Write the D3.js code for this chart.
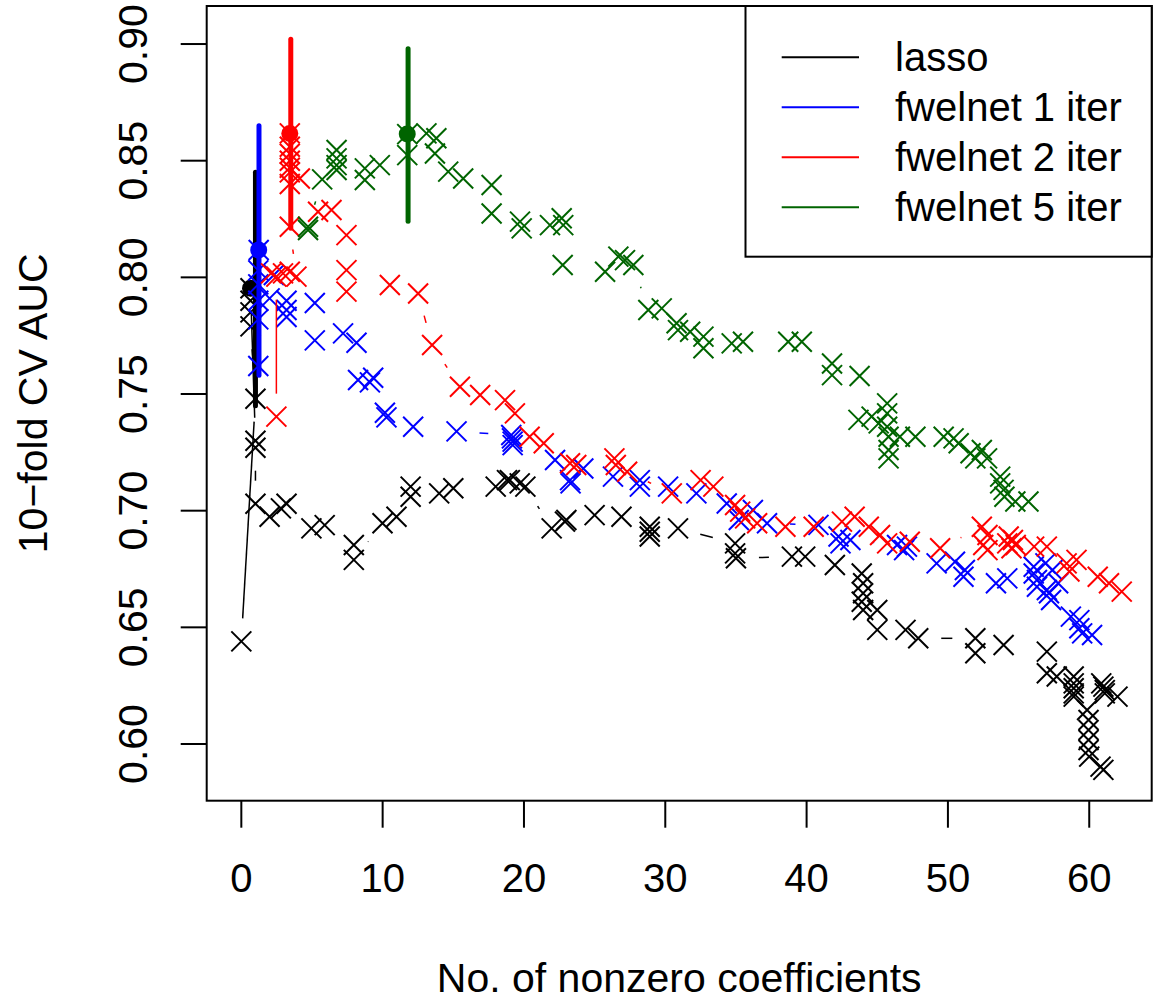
<!DOCTYPE html>
<html>
<head>
<meta charset="utf-8">
<script src="https://cdn.jsdelivr.net/npm/d3@7"></script>
<style>
body { margin: 0; background: #fff; }
text { font-family: "Liberation Sans", Arial, sans-serif; fill: #000; }
</style>
</head>
<body>
<div id="chart"></div>
<script>
// series: number of nonzero coefficients vs CV AUC
var lassoNz = [0, 1, 0.65, 0.65, 0.65, 0.65, 1, 1, 1, 2, 2.8, 3.2, 4.96, 5.9, 7.96, 7.96, 9.99, 10.98, 11.98, 11.98,
	14, 15, 18, 18.8, 19, 19.7, 20.1, 21.96, 22.9, 23, 25, 26.9, 28.9, 28.9, 28.9, 30.9, 34.94, 34.94, 35, 38.96,
	39.9, 42, 43.9, 44, 44, 43.9, 44, 45, 45, 47, 47.9, 51.94, 51.94, 53.94, 57, 57, 57.7, 58.9, 58.9, 58.9,
	58.9, 58.9, 60.85, 61, 61.1, 61.1, 62, 59.85, 59.95, 59.95, 59.95, 59.95, 60, 60.8, 61]
var lassoAuc = [0.644, 0.748, 0.779, 0.785, 0.790, 0.7953, 0.730, 0.727, 0.703, 0.6974, 0.701, 0.703, 0.6924, 0.6938, 0.6853, 0.6789, 0.6946, 0.6974, 0.706, 0.7103,
	0.7074, 0.7096, 0.7103, 0.7131, 0.7131, 0.7117, 0.7103, 0.6924, 0.6953, 0.696, 0.6981, 0.6974, 0.6931, 0.691, 0.6889, 0.6924, 0.686, 0.6817, 0.6796, 0.6803,
	0.6803, 0.6767, 0.6731, 0.6689, 0.6646, 0.661, 0.6574, 0.6574, 0.6489, 0.6489, 0.6453, 0.6453, 0.6389, 0.6424, 0.6396, 0.6303, 0.6289, 0.6289, 0.626, 0.6239,
	0.6217, 0.6203, 0.626, 0.6246, 0.6231, 0.6217, 0.6203, 0.6146, 0.6103, 0.606, 0.6017, 0.5974, 0.5946, 0.5903, 0.5889]

var iter1Nz = [1.2, 1.2, 1.2, 1.2, 1.2, 1.23, 2.3, 2.0, 3.2, 3.2, 3.2, 5.2, 5.2, 7.2, 8.15, 8.26, 9.1, 9.33, 10.16, 10.27,
	12.16, 15.23, 19.1, 19.15, 19.2, 19.2, 22.2, 23.26, 23.3, 24.2, 26.3, 28.2, 28.2, 30.2, 32.2, 34.35, 35.2, 36.2, 37.2, 40.84,
	42.26, 42.4, 43.1, 46.4, 46.9, 47.1, 49.2, 50.5, 51.2, 51.1, 53.4, 54.2, 56.07, 56.9, 57.4, 56.07, 56.3, 57.8, 56.3, 57,
	57.15, 57.3, 58.7, 59.3, 59.3, 59.5, 60.2]
var iter1Auc = [0.762, 0.782, 0.790, 0.797, 0.803, 0.8117, 0.801, 0.791, 0.790, 0.786, 0.783, 0.789, 0.773, 0.776, 0.772, 0.756, 0.755, 0.757, 0.742, 0.740,
	0.736, 0.734, 0.7324, 0.731, 0.7296, 0.7281, 0.7217, 0.7131, 0.7117, 0.7181, 0.7146, 0.7131, 0.7103, 0.7103, 0.7074, 0.7031, 0.696, 0.7003, 0.6946, 0.6939,
	0.6889, 0.686, 0.6874, 0.6853, 0.6831, 0.6846, 0.6774, 0.6781, 0.6746, 0.6717, 0.6689, 0.671, 0.676, 0.6774, 0.6746, 0.6731, 0.6703, 0.6689, 0.6674, 0.666,
	0.6646, 0.6617, 0.6546, 0.6531, 0.6496, 0.6474, 0.6467]

var iter2Nz = [2.48, 2.48, 2.1, 2.95, 3.43, 3.9, 3.43, 3.43, 3.43, 3.43, 3.43, 3.43, 3.43, 3.43, 4.14, 5.43, 6.38, 7.44, 7.44, 7.44,
	10.51, 12.51, 13.5, 15.47, 16.9, 18.66, 19.36, 20.4, 21.4, 23.26, 23.7, 26.4, 26.5, 27.3, 30.46, 32.5, 33.4, 34.94, 35.3, 35.65,
	36.5, 38.5, 40.5, 42.5, 43.4, 44.4, 45.2, 45.7, 47.3, 49.45, 52.4, 52.5, 52.8, 52.8, 54.2, 54.3, 54.6, 54.5, 54.8, 56.1,
	57, 58.4, 58.6, 59.1, 60.6, 61.4, 62.3]
var iter2Auc = [0.7403, 0.8003, 0.8017, 0.8017, 0.8024, 0.8003, 0.8217, 0.840, 0.845, 0.847, 0.850, 0.853, 0.856, 0.8617, 0.8424, 0.8281, 0.8289, 0.8181, 0.8031, 0.7939,
	0.7967, 0.7931, 0.771, 0.7531, 0.7496, 0.7474, 0.7417, 0.7317, 0.7289, 0.7203, 0.7196, 0.7224, 0.7196, 0.7167, 0.7074, 0.7131, 0.7103, 0.7024, 0.6996, 0.6967,
	0.6946, 0.6931, 0.6931, 0.6953, 0.6974, 0.6931, 0.6896, 0.686, 0.6867, 0.6839, 0.6931, 0.6853, 0.6896, 0.6831, 0.686, 0.6889, 0.6874, 0.6839, 0.6853, 0.6846,
	0.6846, 0.6774, 0.6739, 0.6789, 0.6717, 0.6689, 0.6653]

var iter5Nz = [4.72, 4.72, 5.72, 6.74, 6.74, 6.74, 6.74, 8.74, 8.74, 9.8, 11.74, 11.74, 13.1, 13.8, 13.7, 14.64, 15.7, 17.71, 17.71, 19.72,
	19.84, 21.84, 22.67, 22.78, 22.74, 25.74, 26.68, 27.15, 27.74, 28.8, 29.75, 30.8, 30.9, 31.76, 32.7, 32.7, 34.7, 35.5, 38.7, 39.66,
	41.8, 41.8, 43.75, 43.67, 44.6, 45.1, 45.7, 45.7, 45.7, 45.8, 45.8, 45.8, 46.6, 47.7, 49.7, 50.4, 50.76, 51.6, 51.94, 52.4,
	52.77, 53.7, 53.7, 53.94, 54, 54.77, 55.7]
var iter5Auc = [0.8203, 0.8217, 0.842, 0.846, 0.8481, 0.851, 0.8546, 0.8417, 0.8467, 0.8481, 0.8524, 0.8614, 0.8617, 0.8596, 0.8531, 0.8453, 0.8424, 0.8396, 0.8274, 0.8239,
	0.821, 0.8224, 0.8253, 0.8224, 0.8053, 0.8024, 0.8089, 0.8074, 0.8053, 0.786, 0.7867, 0.7803, 0.7774, 0.7767, 0.7746, 0.7696, 0.7717, 0.7724, 0.7724, 0.7724,
	0.7631, 0.7581, 0.7577, 0.7389, 0.7403, 0.7374, 0.746, 0.7417, 0.736, 0.7317, 0.726, 0.7224, 0.7317, 0.7317, 0.7317, 0.731, 0.7289, 0.7246, 0.7224, 0.726,
	0.7224, 0.7146, 0.7117, 0.7089, 0.706, 0.7039, 0.7039]

// best model per method: point, and the interval bar
var bestNz = [0.65, 1.23, 3.43, 11.74]
var bestAuc = [0.7953, 0.8117, 0.8617, 0.8614]
var barNz = [1.0, 1.25, 3.5, 11.8]
var barLow = [0.745, 0.758, 0.821, 0.824]
var barHigh = [0.845, 0.865, 0.902, 0.898]

var labels = ["lasso", "fwelnet 1 iter", "fwelnet 2 iter", "fwelnet 5 iter"]
var colors = ["#000000", "#0000ff", "#ff0000", "#006400"]
var xTicks = [0, 10, 20, 30, 40, 50, 60]
var yTicks = [0.60, 0.65, 0.70, 0.75, 0.80, 0.85, 0.90]

var width = 1157, height = 1000
var plot = {left: 206.7, right: 1151.7, top: 6, bottom: 800.7}

var x = d3.scaleLinear().domain([-2.45, 64.42]).range([plot.left, plot.right])
var y = d3.scaleLinear().domain([0.5757, 0.9163]).range([plot.bottom, plot.top])

var svg = d3.select("#chart").append("svg")
	.attr("width", width)
	.attr("height", height)

svg.append("rect")
	.attr("width", width).attr("height", height)
	.attr("fill", "#fff")

var series = [
	{nz: lassoNz, auc: lassoAuc},
	{nz: iter1Nz, auc: iter1Auc},
	{nz: iter2Nz, auc: iter2Auc},
	{nz: iter5Nz, auc: iter5Auc}
]

// R type="b": segments stop short of each point
var gap = 23
function gappedSegments(pts) {
	var segs = []
	for (var i = 1; i < pts.length; i++) {
		var a = pts[i - 1], b = pts[i]
		var dx = b[0] - a[0], dy = b[1] - a[1]
		var L = Math.sqrt(dx * dx + dy * dy)
		if (L <= 2 * gap) continue
		var ux = dx / L, uy = dy / L
		segs.push([a[0] + ux * gap, a[1] + uy * gap, b[0] - ux * gap, b[1] - uy * gap])
	}
	return segs
}

var g = svg.append("g")

series.forEach(function(s, k) {
	var pts = s.nz.map(function(d, i) { return [x(d), y(s.auc[i])]; })
	var sg = g.append("g").attr("class", "series")

	sg.selectAll(".seg")
		.data(gappedSegments(pts))
		.enter().append("line")
		.attr("x1", function(d) { return d[0]; })
		.attr("y1", function(d) { return d[1]; })
		.attr("x2", function(d) { return d[2]; })
		.attr("y2", function(d) { return d[3]; })
		.attr("stroke", colors[k])
		.attr("stroke-width", 1.5)

	var r = 10
	sg.selectAll(".pt")
		.data(pts)
		.enter().append("path")
		.attr("d", function(d) {
			return "M" + (d[0] - r) + "," + (d[1] - r) + "L" + (d[0] + r) + "," + (d[1] + r) +
				"M" + (d[0] - r) + "," + (d[1] + r) + "L" + (d[0] + r) + "," + (d[1] - r)
		})
		.attr("fill", "none")
		.attr("stroke", colors[k])
		.attr("stroke-width", 2)

	sg.append("line")
		.attr("x1", x(barNz[k])).attr("x2", x(barNz[k]))
		.attr("y1", y(barLow[k])).attr("y2", y(barHigh[k]))
		.attr("stroke", colors[k])
		.attr("stroke-width", 5)
		.attr("stroke-linecap", "round")

	sg.append("circle")
		.attr("cx", x(bestNz[k]))
		.attr("cy", y(bestAuc[k]))
		.attr("r", 8.5)
		.attr("fill", colors[k])
})

// plot frame
svg.append("rect")
	.attr("x", plot.left).attr("y", plot.top)
	.attr("width", plot.right - plot.left)
	.attr("height", plot.bottom - plot.top)
	.attr("fill", "none")
	.attr("stroke", "#000")
	.attr("stroke-width", 2)

// x axis
var xa = svg.append("g")
xa.selectAll(".xt")
	.data(xTicks)
	.enter().append("line")
	.attr("x1", function(d) { return x(d); })
	.attr("x2", function(d) { return x(d); })
	.attr("y1", plot.bottom).attr("y2", plot.bottom + 27)
	.attr("stroke", "#000").attr("stroke-width", 2)
xa.selectAll(".xl")
	.data(xTicks)
	.enter().append("text")
	.attr("x", function(d) { return x(d); })
	.attr("y", 892)
	.attr("text-anchor", "middle")
	.style("font-size", "40px")
	.text(function(d) { return d; })

// y axis
var ya = svg.append("g")
ya.selectAll(".yt")
	.data(yTicks)
	.enter().append("line")
	.attr("x1", plot.left - 26).attr("x2", plot.left)
	.attr("y1", function(d) { return y(d); })
	.attr("y2", function(d) { return y(d); })
	.attr("stroke", "#000").attr("stroke-width", 2)
ya.selectAll(".yl")
	.data(yTicks)
	.enter().append("text")
	.attr("transform", function(d) { return "translate(147," + y(d) + ") rotate(-90)"; })
	.attr("text-anchor", "middle")
	.style("font-size", "41px")
	.text(function(d) { return d3.format(".2f")(d); })

svg.append("text")
	.attr("x", (plot.left + plot.right) / 2)
	.attr("y", 992)
	.attr("text-anchor", "middle")
	.style("font-size", "41px")
	.text("No. of nonzero coefficients")

svg.append("text")
	.attr("transform", "translate(47," + (plot.top + plot.bottom) / 2 + ") rotate(-90)")
	.attr("text-anchor", "middle")
	.style("font-size", "41px")
	.text("10\u2212fold CV AUC")

// legend
var lg = svg.append("g")
lg.append("rect")
	.attr("x", 745.5).attr("y", plot.top)
	.attr("width", plot.right - 745.5)
	.attr("height", 256.7 - plot.top)
	.attr("fill", "#fff")
	.attr("stroke", "#000")
	.attr("stroke-width", 2)

var items = lg.selectAll(".item")
	.data(labels)
	.enter().append("g")
	.attr("transform", function(d, i) { return "translate(0," + (57.3 + i * 50) + ")"; })
items.append("line")
	.attr("x1", 781.7).attr("x2", 859)
	.attr("stroke", function(d, i) { return colors[i]; })
	.attr("stroke-width", 2)
items.append("text")
	.attr("x", 895)
	.attr("y", 14)
	.style("font-size", "40px")
	.text(function(d) { return d; })
</script>
</body>
</html>
